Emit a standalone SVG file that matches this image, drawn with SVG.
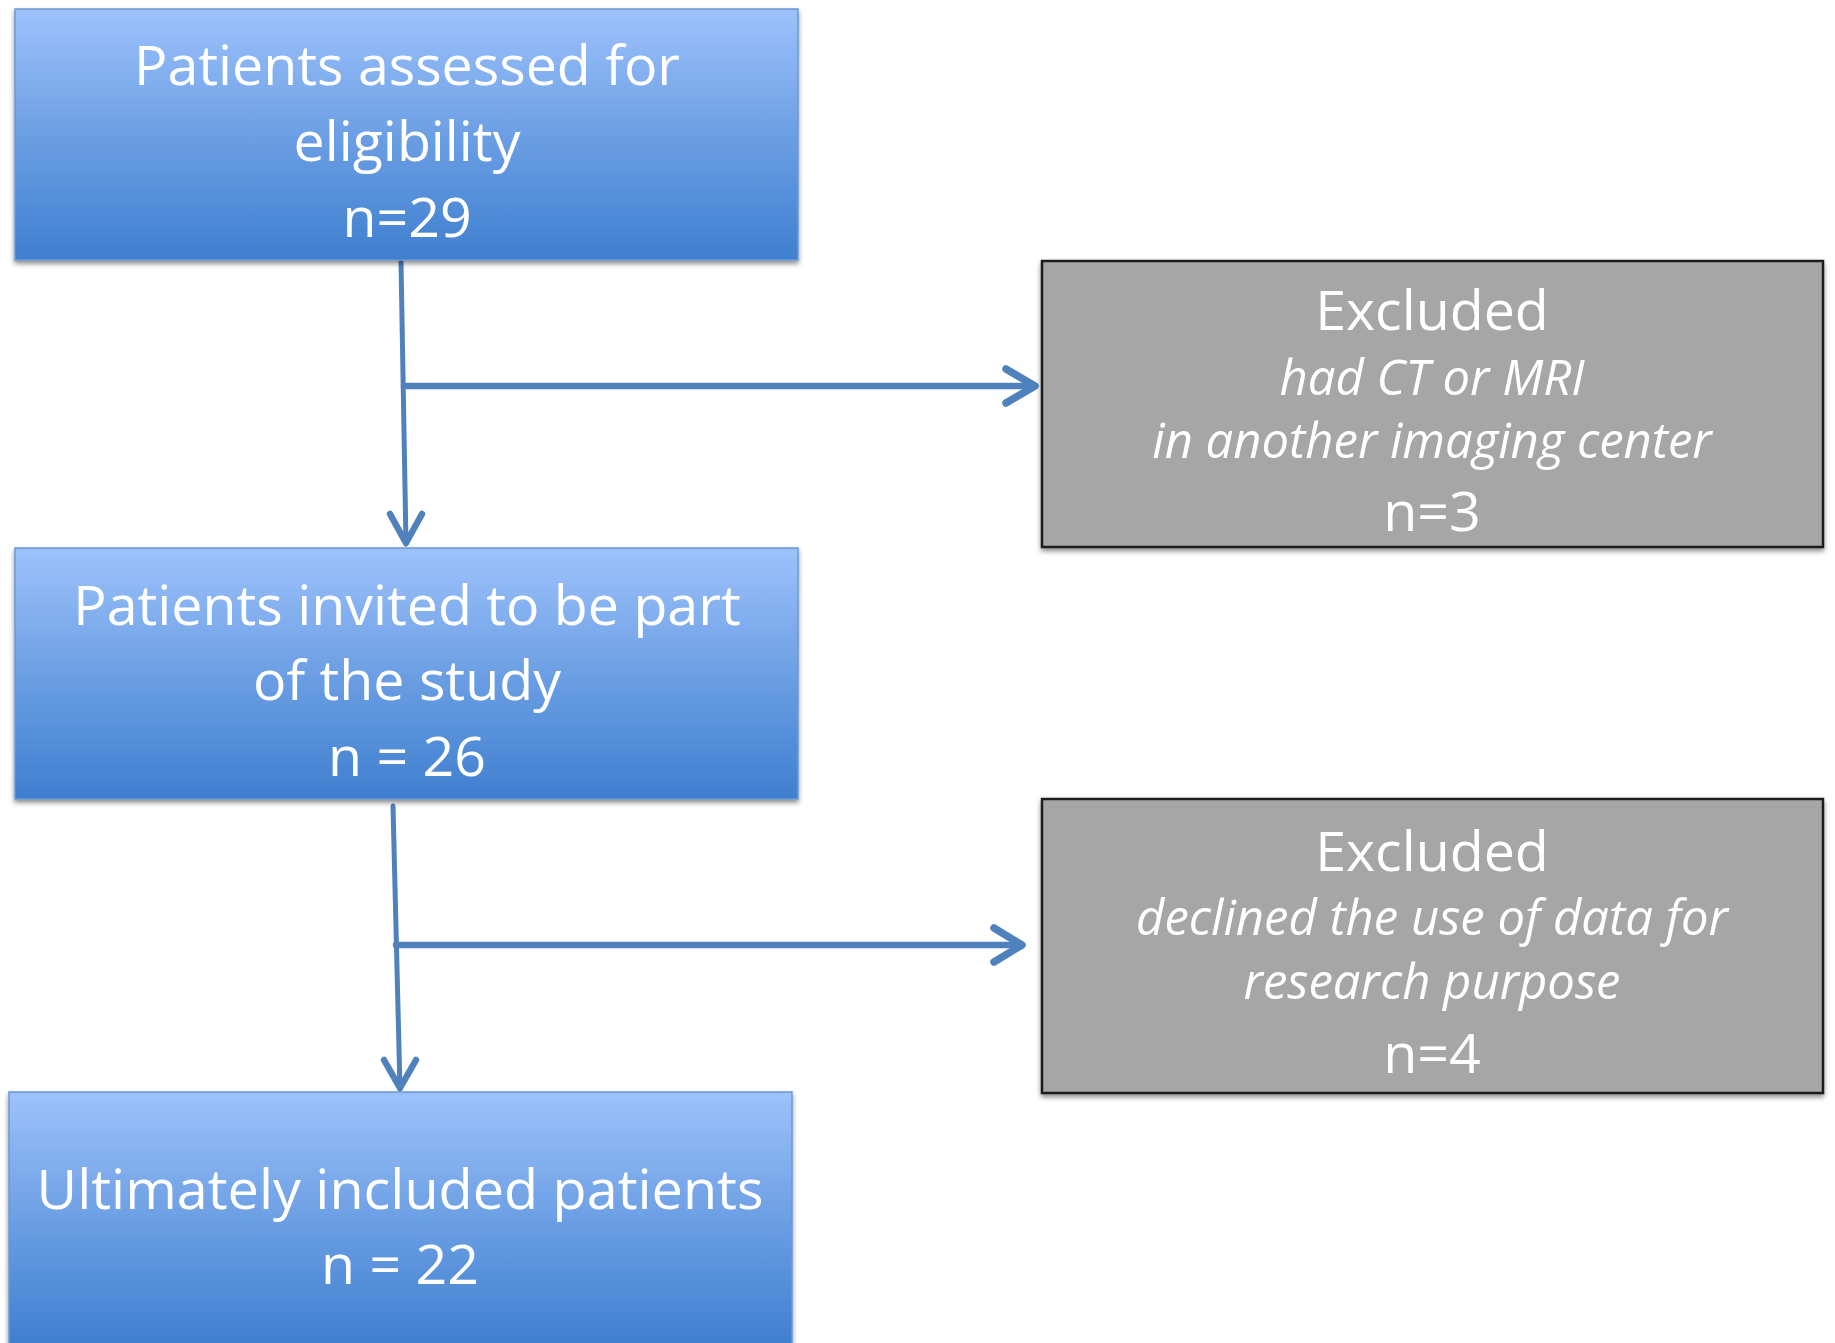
<svg xmlns="http://www.w3.org/2000/svg" width="1835" height="1343" viewBox="0 0 1835 1343">
<defs>
<linearGradient id="blueGrad" x1="0" y1="0" x2="0" y2="1">
<stop offset="0" stop-color="#9DC2FB"/>
<stop offset="0.5" stop-color="#6C9FE4"/>
<stop offset="1" stop-color="#3F7FCF"/>
</linearGradient>
<filter id="shadow" x="-5%" y="-5%" width="110%" height="115%">
<feDropShadow dx="0" dy="3" stdDeviation="2.5" flood-color="#000" flood-opacity="0.45"/>
</filter>
</defs>
<style>
.blue{fill:url(#blueGrad);stroke:#6E98D0;stroke-width:1.5;filter:url(#shadow)}
.gray{fill:#A6A6A6;stroke:#1E1E1E;stroke-width:2.5;filter:url(#shadow)}
.t{font-family:"Open Sans","Noto Sans","DejaVu Sans",sans-serif;fill:#FFFFFF;text-anchor:middle}
.big{font-size:55.5px}
.it{font-size:49px;font-style:italic}
.conn{fill:none;stroke:#4F81BD;stroke-linecap:round;stroke-linejoin:round}
</style>
<rect width="1835" height="1343" fill="#FFFFFF"/>
<g id="connectors">
<path class="conn" stroke-width="5" d="M401 262 L406 544"/>
<path class="conn" stroke-width="6.5" d="M390 514 L406 543 L422 514"/>
<path class="conn" stroke-width="6.5" d="M404 386 L1034 386"/>
<path class="conn" stroke-width="7.5" d="M1006 369 L1035 386 L1006 403"/>
<path class="conn" stroke-width="5" d="M393 806 L400 1089"/>
<path class="conn" stroke-width="6.5" d="M384 1060 L400 1088 L416 1060"/>
<path class="conn" stroke-width="6.5" d="M396 945 L1021 945"/>
<path class="conn" stroke-width="7.5" d="M994 928 L1022 945 L994 962"/>
</g>
<g id="node-assessed">
<rect class="blue" x="15" y="9" width="783" height="251"/>
<text class="t big" x="407" y="85">Patients assessed for</text>
<text class="t big" x="407" y="161">eligibility</text>
<text class="t big" x="407" y="237">n=29</text>
</g>
<g id="node-invited">
<rect class="blue" x="15" y="548" width="783" height="251"/>
<text class="t big" x="407" y="625">Patients invited to be part</text>
<text class="t big" x="407" y="700">of the study</text>
<text class="t big" x="407" y="776">n = 26</text>
</g>
<g id="node-included">
<rect class="blue" x="9" y="1092" width="783" height="253"/>
<text class="t big" x="400" y="1209" textLength="727" lengthAdjust="spacingAndGlyphs">Ultimately included patients</text>
<text class="t big" x="400" y="1284">n = 22</text>
</g>
<g id="node-excluded1">
<rect class="gray" x="1042" y="261" width="781" height="286"/>
<text class="t big" x="1432" y="330">Excluded</text>
<text class="t it" x="1432" y="395">had CT or MRI</text>
<text class="t it" x="1432" y="458">in another imaging center</text>
<text class="t big" x="1432" y="531">n=3</text>
</g>
<g id="node-excluded2">
<rect class="gray" x="1042" y="799" width="781" height="294"/>
<text class="t big" x="1432" y="871">Excluded</text>
<text class="t it" x="1432" y="935">declined the use of data for</text>
<text class="t it" x="1432" y="999">research purpose</text>
<text class="t big" x="1432" y="1073">n=4</text>
</g>
</svg>
